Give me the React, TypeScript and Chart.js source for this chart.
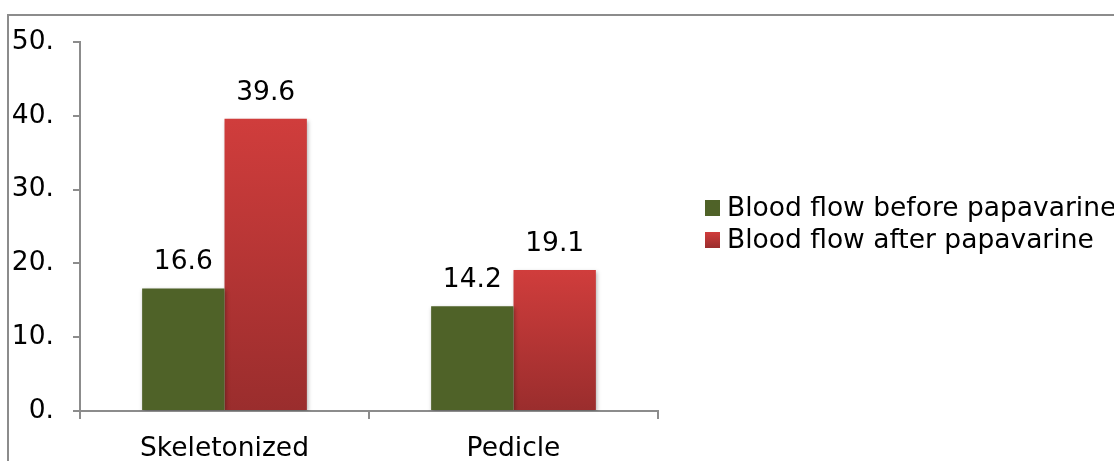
import React, { useEffect, useRef } from "react";
import { Chart, registerables } from "chart.js";

Chart.register(...registerables);

const categories = ["Skeletonized", "Pedicle"];
const beforeValues = [16.6, 14.2];
const afterValues = [39.6, 19.1];
const seriesLabels = ["Blood flow before papavarine", "Blood flow after papavarine"];
const yTicks = [0, 10, 20, 30, 40, 50];

const FONT = "'DejaVu Sans', Verdana, sans-serif";
const FS = 26.5;
const GREEN = "#4f6228";

function redGradient(ctx: CanvasRenderingContext2D, top: number, bottom: number) {
  const g = ctx.createLinearGradient(0, top, 0, bottom);
  g.addColorStop(0, "#d03d3c");
  g.addColorStop(1, "#9a2d2d");
  return g;
}

export default function App() {
  const ref = useRef<HTMLCanvasElement | null>(null);

  useEffect(() => {
    if (!ref.current) return;

    const framePlugin = {
      id: "frame",
      beforeDraw(chart: any) {
        const ctx = chart.ctx;
        ctx.save();
        ctx.strokeStyle = "#8c8c8c";
        ctx.lineWidth = 2;
        ctx.beginPath();
        ctx.moveTo(8, 470);
        ctx.lineTo(8, 15);
        ctx.lineTo(1130, 15);
        ctx.stroke();
        ctx.restore();
      },
      beforeDatasetsDraw(chart: any) {
        const ctx = chart.ctx;
        ctx.save();
        ctx.shadowColor = "rgba(0,0,0,0.3)";
        ctx.shadowBlur = 4;
        ctx.shadowOffsetX = 1;
        ctx.shadowOffsetY = 2;
      },
      afterDatasetsDraw(chart: any) {
        chart.ctx.restore();
      },
      afterDraw(chart: any) {
        const ctx = chart.ctx;
        ctx.save();
        ctx.font = `${FS}px ${FONT}`;
        ctx.fillStyle = "#000";
        ctx.textAlign = "center";
        ctx.textBaseline = "alphabetic";
        chart.data.datasets.forEach((ds: any, di: number) => {
          const meta = chart.getDatasetMeta(di);
          meta.data.forEach((bar: any, i: number) => {
            ctx.fillText(String(ds.data[i]), bar.x, bar.y - 19);
          });
        });
        const items = [
          { label: seriesLabels[0], color: GREEN, y: 208 },
          { label: seriesLabels[1], color: "red", y: 240 },
        ];
        ctx.textAlign = "left";
        ctx.textBaseline = "middle";
        items.forEach((it) => {
          ctx.fillStyle = it.color === "red" ? redGradient(ctx, it.y - 8, it.y + 8) : it.color;
          ctx.fillRect(705, it.y - 8, 15, 16);
          ctx.fillStyle = "#000";
          ctx.fillText(it.label, 727, it.y + 1);
        });
        ctx.restore();
      },
    };

    const chart = new Chart(ref.current, {
      type: "bar",
      data: {
        labels: categories,
        datasets: [
          {
            label: seriesLabels[0],
            data: beforeValues,
            backgroundColor: GREEN,
          },
          {
            label: seriesLabels[1],
            data: afterValues,
            backgroundColor: (c: any) => {
              const area = c.chart.chartArea;
              const ys = c.chart.scales && c.chart.scales.y;
              if (!area || !ys || typeof c.raw !== "number") return "#c23a3a";
              const top = ys.getPixelForValue(c.raw);
              return redGradient(c.chart.ctx, top, area.bottom);
            },
          },
        ],
      },
      options: {
        animation: false,
        responsive: false,
        maintainAspectRatio: false,
        layout: { padding: { left: 0, right: 456, top: 42, bottom: 0 } },
        plugins: { legend: { display: false }, tooltip: { enabled: false } },
        datasets: { bar: { categoryPercentage: 0.57, barPercentage: 1 } } as any,
        scales: {
          x: {
            grid: { display: true, drawOnChartArea: false, offset: true, tickLength: 8, color: "#8c8c8c", lineWidth: 2 },
            border: { color: "#8c8c8c", width: 2 },
            ticks: { font: { family: FONT, size: FS }, color: "#000", padding: 14 },
            afterFit(scale: any) {
              scale.height = 50;
            },
          },
          y: {
            min: 0,
            max: 50,
            afterBuildTicks(scale: any) {
              scale.ticks = yTicks.map((v) => ({ value: v }));
            },
            grid: { display: true, drawOnChartArea: false, tickLength: 7, color: "#8c8c8c", lineWidth: 2 },
            border: { color: "#8c8c8c", width: 2 },
            ticks: {
              font: { family: FONT, size: FS },
              color: "#000",
              padding: 19,
              callback: (v: any) => `${v}.`,
            },
            afterFit(scale: any) {
              scale.width = 80;
            },
          },
        },
      },
      plugins: [framePlugin],
    });

    return () => chart.destroy();
  }, []);

  return (
    <div style={{ position: "fixed", left: 0, top: 0, width: 1114, height: 461, background: "#fff" }}>
      <canvas ref={ref} width={1114} height={461} style={{ width: 1114, height: 461 }} />
    </div>
  );
}
